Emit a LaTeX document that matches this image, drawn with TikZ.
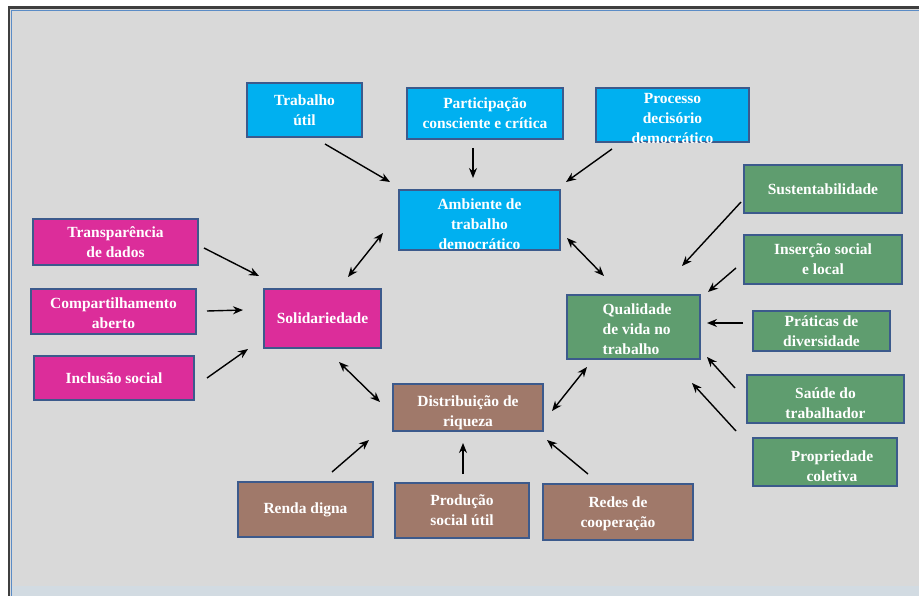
\documentclass[tikz,border=0pt]{standalone}
\usepackage{fontspec}
\setmainfont{Liberation Serif}
\usetikzlibrary{arrows.meta}
\definecolor{bgc}{HTML}{D9D9D9}
\definecolor{cblue}{HTML}{00B0F0}
\definecolor{cmag}{HTML}{DC2D9A}
\definecolor{cgreen}{HTML}{5F9D6F}
\definecolor{cbrown}{HTML}{A0796A}
\definecolor{cborder}{HTML}{3C5A8C}
\definecolor{frameouter}{HTML}{3F3F3F}
\definecolor{frameinner}{HTML}{5B8CC6}
\definecolor{bandc}{HTML}{D2DBE2}
\tikzset{
  boxnode/.style={draw=cborder, line width=1.1pt, inner sep=0pt, rectangle},
  txt/.style={text=white, font=\fontsize{15.5}{20}\selectfont\bfseries, align=center, inner sep=0pt},
  arr/.style={line width=1.4pt, -{Stealth[length=10pt,width=8pt]}},
  darr/.style={line width=1.4pt, {Stealth[length=10pt,width=8pt]}-{Stealth[length=10pt,width=8pt]}}
}
% \bx{name}{colour}{x1}{y1}{x2}{y2}
\newcommand{\bx}[6]{\node[boxnode, fill=#2, minimum width=#5pt-#3pt, minimum height=#6pt-#4pt] (#1) at ({(#3+#5)/2},{(#4+#6)/2}) {};}
\begin{document}
\begin{tikzpicture}[x=1pt, y=-1pt]
\useasboundingbox (0,0) rectangle (919,596);
% frame and background
\fill[white] (0,0) rectangle (919,596);
\fill[bgc] (8,7) rectangle (919,596);
\fill[bandc] (12,586) rectangle (919,596);
\draw[frameouter, line width=2.6pt] (8.8,600) -- (8.8,7.8) -- (925,7.8);
\draw[frameinner, line width=1.2pt] (11.6,600) -- (11.6,10.6) -- (925,10.6);

% blue boxes
\bx{tu}{cblue}{247}{83}{362}{137}
\bx{pc}{cblue}{407}{88}{563}{139}
\bx{pd}{cblue}{596}{88}{749}{142}
\bx{amb}{cblue}{399}{190}{560}{250}
% magenta boxes
\bx{tra}{cmag}{33}{219}{198}{265}
\bx{com}{cmag}{31}{289}{196}{334}
\bx{inc}{cmag}{34}{356}{194}{400}
\bx{sol}{cmag}{264}{289}{381}{348}
% green boxes
\bx{sus}{cgreen}{744}{165}{902}{213}
\bx{ins}{cgreen}{744}{235}{902}{284}
\bx{qv}{cgreen}{567}{295}{700}{359}
\bx{pra}{cgreen}{753}{311}{890}{351}
\bx{sau}{cgreen}{747}{375}{904}{423}
\bx{pro}{cgreen}{753}{438}{897}{486}
% brown boxes
\bx{dis}{cbrown}{393}{384}{543}{431}
\bx{ren}{cbrown}{238}{482}{373}{537}
\bx{prod}{cbrown}{395}{483}{529}{538}
\bx{red}{cbrown}{543}{484}{693}{540}

% texts
\node[txt] (tuT) at (tu.center) {Trabalho\\útil};
\node[txt] (pcT) at (pc.center) {Participação\\consciente e crítica};
\node[txt] (pdT) at ([yshift=-4pt]pd.center) {Processo\\decisório\\democrático};
\node[txt] (ambT) at ([yshift=-4pt]amb.center) {Ambiente de\\trabalho\\democrático};
\node[txt] (traT) at (tra.center) {Transparência\\de dados};
\node[txt] (comT) at ([yshift=-2pt]com.center) {Compartilhamento\\aberto};
\node[txt] (incT) at (inc.center) {Inclusão social};
\node[txt] (solT) at (sol.center) {Solidariedade};
\node[txt] (susT) at (sus.center) {Sustentabilidade};
\node[txt] (insT) at (ins.center) {Inserção social\\e local};
\node[txt, align=left, anchor=west] (qvT) at ([xshift=36pt,yshift=-2pt]qv.west) {Qualidade\\de vida no\\trabalho};
\node[txt] (praT) at (pra.center) {Práticas de\\diversidade};
\node[txt] (sauT) at ([yshift=-4pt]sau.center) {Saúde do\\trabalhador};
\node[txt] (proT) at ([xshift=7pt,yshift=-4pt]pro.center) {Propriedade\\coletiva};
\node[txt] (disT) at ([yshift=-5pt]dis.center) {Distribuição de\\riqueza};
\node[txt] (renT) at (ren.center) {Renda digna};
\node[txt] (prodT) at (prod.center) {Produção\\social útil};
\node[txt] (redT) at ([yshift=-2pt]red.center) {Redes de\\cooperação};

% arrow end points
\coordinate (a1s) at (325,144);  \coordinate (a1e) at (390,182);
\coordinate (a2s) at (473,148);  \coordinate (a2e) at (473,178);
\coordinate (a3s) at (612,149);  \coordinate (a3e) at (566,182);
\coordinate (a4s) at (383,233);  \coordinate (a4e) at (348,277);
\coordinate (a5s) at (567,238);  \coordinate (a5e) at (604,276);
\coordinate (a6s) at (741,202);  \coordinate (a6e) at (682,266);
\coordinate (a7s) at (736,268);  \coordinate (a7e) at (708,292);
\coordinate (a8s) at (204,248);  \coordinate (a8e) at (259,276);
\coordinate (a9s) at (207,311);  \coordinate (a9e) at (243,310);
\coordinate (a10s) at (207,378); \coordinate (a10e) at (248,349);
\coordinate (a11s) at (339,362); \coordinate (a11e) at (380,402);
\coordinate (a12s) at (587,367); \coordinate (a12e) at (552,411);
\coordinate (a13s) at (743,323); \coordinate (a13e) at (707,323);
\coordinate (a14s) at (735,388); \coordinate (a14e) at (707,357);
\coordinate (a15s) at (736,431); \coordinate (a15e) at (692,383);
\coordinate (a16s) at (332,472); \coordinate (a16e) at (369,440);
\coordinate (a17s) at (463,474); \coordinate (a17e) at (463,443);
\coordinate (a18s) at (588,474); \coordinate (a18e) at (547,440);

\draw[arr] (a1s) -- (a1e);
\draw[arr] (a2s) -- (a2e);
\draw[arr] (a3s) -- (a3e);
\draw[darr] (a4s) -- (a4e);
\draw[darr] (a5s) -- (a5e);
\draw[arr] (a6s) -- (a6e);
\draw[arr] (a7s) -- (a7e);
\draw[arr] (a8s) -- (a8e);
\draw[arr] (a9s) -- (a9e);
\draw[arr] (a10s) -- (a10e);
\draw[darr] (a11s) -- (a11e);
\draw[darr] (a12s) -- (a12e);
\draw[arr] (a13s) -- (a13e);
\draw[arr] (a14s) -- (a14e);
\draw[arr] (a15s) -- (a15e);
\draw[arr] (a16s) -- (a16e);
\draw[arr] (a17s) -- (a17e);
\draw[arr] (a18s) -- (a18e);
\end{tikzpicture}
\end{document}
